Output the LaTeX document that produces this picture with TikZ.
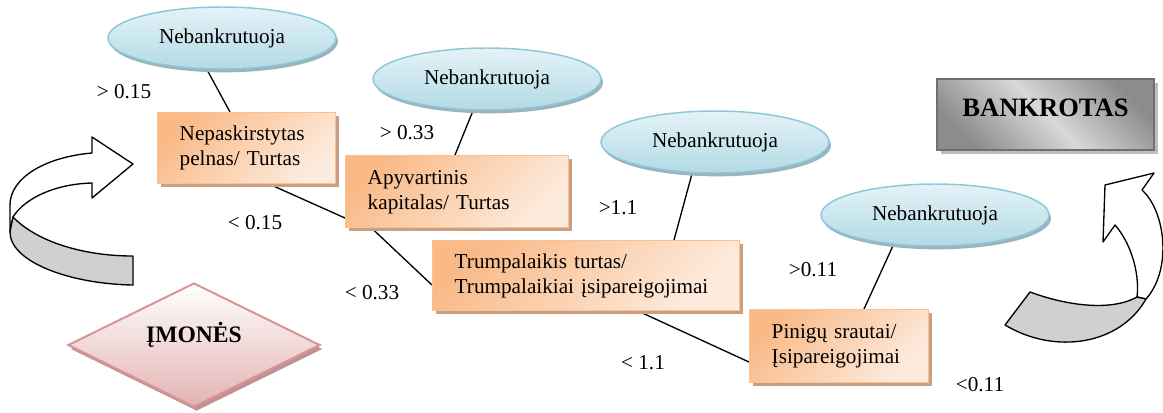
\documentclass[tikz,border=0pt]{standalone}
\usepackage{fontspec}
\setmainfont{Liberation Serif}
\usetikzlibrary{shapes.geometric,shadows,calc,backgrounds}
\definecolor{elltop}{HTML}{E4F3F7}
\definecolor{ellbot}{HTML}{B2DAE5}
\definecolor{elledge}{HTML}{8CC8D8}
\definecolor{ellshadow}{HTML}{9AB3BD}
\definecolor{boxdark}{HTML}{F9BA88}
\definecolor{boxlight}{HTML}{FDEBDD}
\definecolor{boxedge}{HTML}{FAC090}
\definecolor{boxshadow}{HTML}{C9A083}
\definecolor{grayedge}{HTML}{6F6F6F}
\definecolor{graydark}{HTML}{8C8C8C}
\definecolor{graylight}{HTML}{D8D8D8}
\definecolor{grayshadow}{HTML}{BDBDBD}
\definecolor{pinktop}{HTML}{FFFFFF}
\definecolor{pinkbot}{HTML}{E3B3B2}
\definecolor{pinkedge}{HTML}{D99594}
\definecolor{pinkshadow}{HTML}{BF9291}
\definecolor{ribbon}{HTML}{D0D0D0}

\begin{document}
\begin{tikzpicture}[x=0.75pt, y=-0.75pt,
        font=\fontsize{15.9pt}{18.75pt}\selectfont,
        ans/.style={ellipse, draw=elledge, line width=1.1pt, top color=elltop, bottom color=ellbot,
            minimum width=171pt, minimum height=46.5pt, inner sep=0pt,
            drop shadow={shadow xshift=1.5pt, shadow yshift=-2.5pt, fill=ellshadow, opacity=1}},
        ratio/.style={rectangle, draw=boxedge, line width=1.1pt, top color=boxdark, bottom color=boxlight,
            shading angle=45, anchor=north west, align=left, inner xsep=16.5pt, inner ysep=0pt,
            drop shadow={shadow xshift=2.5pt, shadow yshift=-2.5pt, fill=boxshadow, opacity=1}},
        bankrot/.style={rectangle, draw=grayedge, line width=1.5pt, top color=graydark, bottom color=graydark,
            middle color=graylight, shading angle=-45, minimum width=162.75pt, minimum height=53.25pt,
            font=\fontsize{19.9pt}{24pt}\selectfont\bfseries, text depth=10.5pt,
            drop shadow={shadow xshift=3pt, shadow yshift=-3pt, fill=grayshadow, opacity=1}},
        firm/.style={diamond, shape aspect=2, draw=pinkedge, line width=1.5pt, top color=pinktop, bottom color=pinkbot,
            minimum width=189pt, minimum height=93pt, inner sep=0pt,
            font=\fontsize{17.7pt}{20pt}\selectfont\bfseries, text height=13pt, text depth=16.4pt,
            drop shadow={shadow xshift=2pt, shadow yshift=-3pt, fill=pinkshadow, opacity=1}},
        link/.style={line width=1pt},
        ribbonline/.style={line width=1pt, line join=round}
    ]
        \useasboundingbox (0,0) rectangle (1163,412);
        % Define os nós das razões
        \node[ratio, text width=100.5pt, minimum height=53.25pt] (b1) at (157,112) {Nepaskirstytas\\pelnas/ Turtas};
        \node[ratio, text width=134.25pt, minimum height=54pt] (b2) at (345,155) {Apyvartinis\\kapitalas/ Turtas};
        \node[ratio, text width=197.25pt, minimum height=52.5pt] (b3) at (432,240) {Trumpalaikis turtas/\\Trumpalaikiai įsipareigojimai};
        \node[ratio, text width=101.25pt, minimum height=54.75pt] (b4) at (749,309) {Pinigų srautai/\\Įsipareigojimai};
        % Define os nós finais
        \node[ans] (e1) at (222,38) {Nebankrutuoja};
        \node[ans] (e2) at (487,79) {Nebankrutuoja};
        \node[ans] (e3) at (715,142) {Nebankrutuoja};
        \node[ans] (e4) at (935,215) {Nebankrutuoja};
        \node[bankrot] (bank) at (1045.5,114.5) {BANKROTAS};
        \node[firm] (firm) at (194,345) {ĮMONĖS};
        % Conecta os nós
        \begin{scope}[on background layer]
            \draw[link] ($(e1.south)+(-15,0)$) -- ($(b1.north west)+(73,0)$);
            \draw[link] ($(b1.south west)+(113,0)$) -- ($(b2.north west)+(0,63)$);
            \draw[link] ($(e2.south)+(-14,0)$) -- ($(b2.north west)+(110,0)$);
            \draw[link] ($(b2.south west)+(27,0)$) -- ($(b3.north west)+(0,45)$);
            \draw[link] ($(e3.south)+(-23,0)$) -- ($(b3.north west)+(242,0)$);
            \draw[link] ($(b3.south west)+(207,0)$) -- ($(b4.north west)+(0,53)$);
            \draw[link] ($(e4.south)+(-42,-1)$) -- ($(b4.north west)+(115,0)$);
        \end{scope}
        % Adiciona os limites
        \node (gt015) at (124,92) {> 0.15};
        \node (lt015) at (255,223) {< 0.15};
        \node (gt033) at (407,133) {> 0.33};
        \node (lt033) at (372,293) {< 0.33};
        \node (gt11) at (618,208) {>1.1};
        \node (lt11) at (643,363) {< 1.1};
        \node (gt011) at (813,270) {>0.11};
        \node (lt011) at (980,385) {<0.11};
        % Adiciona as setas curvas
        \draw[ribbonline, fill=white] (92,153) .. controls (45,157) and (10,178) .. (10,205) -- (10,232) -- (13,217)
            .. controls (25,198) and (55,184) .. (92,183) -- (92,198) -- (133,164) -- (92,137) -- cycle;
        \draw[ribbonline, fill=ribbon] (13,217) .. controls (35,240) and (80,256) .. (133,256) -- (133,285)
            .. controls (70,284) and (10,262) .. (10,232) -- cycle;
        \draw[ribbonline, fill=white] (1105,185) -- (1154,173) -- (1142,190) .. controls (1166,212) and (1172,270) .. (1146,299)
            -- (1137,297) .. controls (1140,272) and (1130,242) .. (1115,225) -- (1103,242) -- cycle;
        \draw[ribbonline, fill=ribbon] (1030,292) .. controls (1065,305) and (1110,312) .. (1137,297) -- (1146,299)
            .. controls (1120,345) and (1055,355) .. (1005,325) -- cycle;
    \end{tikzpicture}
\end{document}
